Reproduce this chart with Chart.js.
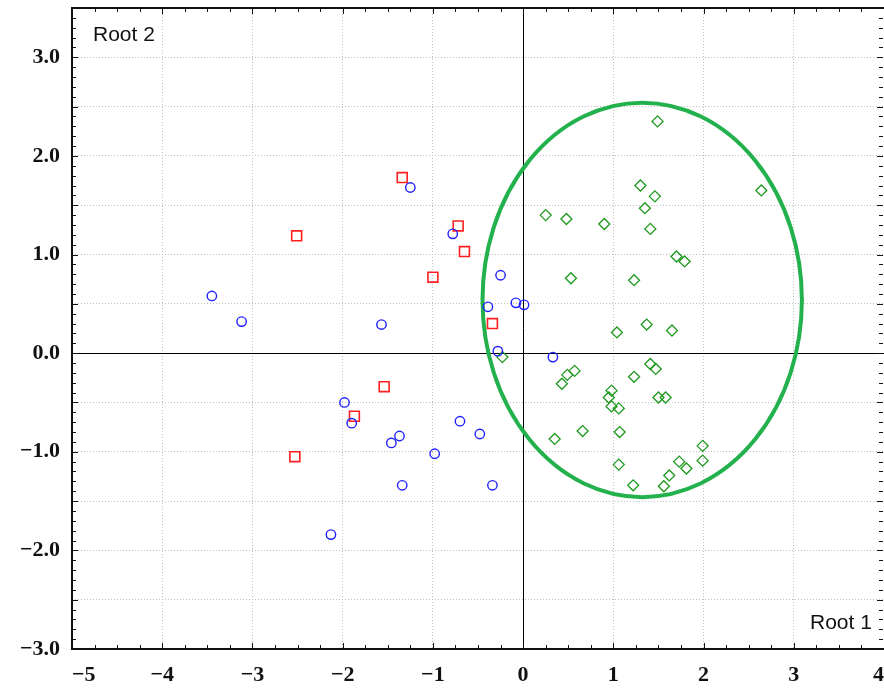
<!DOCTYPE html>
<html lang="en">
<head>
<meta charset="utf-8">
<title>Root 1 / Root 2</title>
<script src="https://cdn.jsdelivr.net/npm/chart.js@4.4.1/dist/chart.umd.min.js"></script>
<style>
  html, body { margin: 0; padding: 0; background: #fff; overflow: hidden; }
  #zone { position: relative; width: 884px; height: 690px; }
</style>
</head>
<body>
<div id="zone"><canvas id="nuage"></canvas></div>
<script>
// groupe 1 : cercles bleus
const groupe1X = [-3.45, -3.12, -1.57, -1.25, -0.78, -0.25, -0.39, -0.08, 0.01, -0.28, 0.33,
                  -1.98, -1.90, -1.37, -1.46, -0.70, -0.48, -0.98, -1.34, -2.13, -0.34];
const groupe1Y = [0.58, 0.32, 0.29, 1.68, 1.21, 0.79, 0.47, 0.51, 0.49, 0.02, -0.04,
                  -0.50, -0.71, -0.84, -0.91, -0.69, -0.82, -1.02, -1.34, -1.84, -1.34];

// groupe 2 : carrés rouges
const groupe2X = [-1.34, -2.51, -0.72, -0.65, -1.00, -0.34, -1.54, -1.87, -2.53];
const groupe2Y = [1.78, 1.19, 1.29, 1.03, 0.77, 0.30, -0.34, -0.64, -1.05];

// groupe 3 : losanges verts
const groupe3X = [1.49, 1.30, 1.46, 1.35, 2.64, 0.25, 0.48, 0.90, 1.41, 1.70, 1.79, 1.23,
                  1.37, 1.04, 1.65, 1.41, 1.47, 1.23, 0.53, -0.23, 0.57, 0.49, 0.43, 0.98,
                  0.95, 0.98, 1.06, 1.50, 1.58, 0.66, 1.07, 0.35, 1.06, 1.22, 1.56, 1.62,
                  1.73, 1.81, 1.99, 1.99];
const groupe3Y = [2.35, 1.70, 1.59, 1.47, 1.65, 1.40, 1.36, 1.31, 1.26, 0.98, 0.93, 0.74,
                  0.29, 0.21, 0.23, -0.11, -0.16, -0.24, 0.76, -0.04, -0.18, -0.22, -0.31, -0.38,
                  -0.45, -0.54, -0.56, -0.45, -0.45, -0.79, -0.80, -0.87, -1.13, -1.34, -1.35, -1.24,
                  -1.10, -1.17, -0.94, -1.09];

// ellipse autour du groupe 3
const ellipseCentre = [1.32, 0.54];
const ellipseRayons = [1.77, 2.00];

// graduations
const ticksX = [-5, -4, -3, -2, -1, 0, 1, 2, 3, 4];
const ticksY = [-3, -2, -1, 0, 1, 2, 3];
const limitesY = [-3, 3.5];

function versPoints(xs, ys) {
  return xs.map((v, i) => ({ x: v, y: ys[i] }));
}

function signeMoins(txt) {
  return txt.replace('-', '\u2212');
}

function couleurGrille(ctx, min, max) {
  const v = ctx.tick.value;
  if (v === 0 || v === min || v === max) return 'rgba(0,0,0,0)';
  return '#bfbfbf';
}

// pas de marge ajoutée par les étiquettes : la zone de tracé va jusqu'au bord
function sansMarge(s) {
  s.paddingTop = 0;
  s.paddingBottom = 0;
  s.paddingLeft = 0;
  s.paddingRight = 0;
}

const cadrePlugin = {
  id: 'cadre',
  beforeDatasetsDraw(chart) {
    const { ctx, chartArea: a, scales: { x, y } } = chart;
    ctx.save();
    // axes du zéro
    ctx.strokeStyle = '#000';
    ctx.lineWidth = 1;
    const x0 = Math.round(x.getPixelForValue(0)) + 0.5;
    const y0 = Math.round(y.getPixelForValue(0)) + 0.5;
    ctx.beginPath();
    ctx.moveTo(x0, a.top);
    ctx.lineTo(x0, a.bottom);
    ctx.moveTo(a.left, y0);
    ctx.lineTo(a.right, y0);
    ctx.stroke();
    // ellipse
    const cx = x.getPixelForValue(ellipseCentre[0]);
    const cy = y.getPixelForValue(ellipseCentre[1]);
    const rx = x.getPixelForValue(ellipseCentre[0] + ellipseRayons[0]) - cx;
    const ry = cy - y.getPixelForValue(ellipseCentre[1] + ellipseRayons[1]);
    ctx.strokeStyle = '#22b14c';
    ctx.lineWidth = 4;
    ctx.beginPath();
    ctx.ellipse(cx, cy, rx, ry, 0, 0, 2 * Math.PI);
    ctx.stroke();
    ctx.restore();
  },
  afterDatasetsDraw(chart) {
    const { ctx, chartArea: a, scales: { x, y } } = chart;
    ctx.save();
    ctx.strokeStyle = '#111';
    // petites graduations vers l'intérieur
    ctx.lineWidth = 1;
    ctx.beginPath();
    const nX = Math.round((ticksX[ticksX.length - 1] - ticksX[0]) / 0.25);
    for (let i = 0; i <= nX; i++) {
      const px = Math.round(x.getPixelForValue(ticksX[0] + i * 0.25)) + 0.5;
      const len = i % 4 === 0 ? 6 : 4;
      ctx.moveTo(px, a.bottom);
      ctx.lineTo(px, a.bottom - len);
      ctx.moveTo(px, a.top);
      ctx.lineTo(px, a.top + len);
    }
    const nY = Math.round((limitesY[1] - limitesY[0]) / 0.1);
    for (let i = 0; i <= nY; i++) {
      const py = Math.round(y.getPixelForValue(limitesY[0] + i * 0.1)) + 0.5;
      const len = i % 5 === 0 ? 6 : 4;
      ctx.moveTo(a.left, py);
      ctx.lineTo(a.left + len, py);
      ctx.moveTo(a.right - 1, py);
      ctx.lineTo(a.right - 1 - len, py);
    }
    ctx.stroke();
    // cadre
    ctx.lineWidth = 2;
    ctx.beginPath();
    ctx.moveTo(a.right + 2, a.top);
    ctx.lineTo(a.left, a.top);
    ctx.lineTo(a.left, a.bottom);
    ctx.lineTo(a.right + 2, a.bottom);
    ctx.stroke();
    // noms des axes
    ctx.fillStyle = '#111';
    ctx.font = '21px "Liberation Sans", Arial, sans-serif';
    ctx.textBaseline = 'alphabetic';
    ctx.textAlign = 'left';
    ctx.fillText('Root 2', a.left + 21, a.top + 33);
    ctx.fillText('Root 1', a.right - 74, a.bottom - 20);
    ctx.restore();
  }
};

const policeGrad = { family: '"Liberation Serif", "Times New Roman", serif', size: 22, weight: 'bold' };

new Chart(document.getElementById('nuage'), {
  type: 'scatter',
  data: {
    datasets: [
      {
        label: 'Groupe 1',
        data: versPoints(groupe1X, groupe1Y),
        pointStyle: 'circle',
        radius: 4.7,
        borderColor: '#1f1fff',
        backgroundColor: 'rgba(0,0,0,0)',
        borderWidth: 1.4
      },
      {
        label: 'Groupe 2',
        data: versPoints(groupe2X, groupe2Y),
        pointStyle: 'rect',
        radius: 7,
        borderColor: '#ff1f1f',
        backgroundColor: 'rgba(0,0,0,0)',
        borderWidth: 1.6
      },
      {
        label: 'Groupe 3',
        data: versPoints(groupe3X, groupe3Y),
        pointStyle: 'rectRot',
        radius: 5.5,
        borderColor: '#1e981e',
        backgroundColor: 'rgba(0,0,0,0)',
        borderWidth: 1.3
      }
    ]
  },
  options: {
    responsive: true,
    maintainAspectRatio: false,
    animation: false,
    events: [],
    layout: { autoPadding: false, padding: { top: 8, right: 0, left: 0, bottom: 0 } },
    plugins: {
      legend: { display: false },
      tooltip: { enabled: false }
    },
    scales: {
      x: {
        type: 'linear',
        min: ticksX[0],
        max: ticksX[ticksX.length - 1],
        afterBuildTicks: s => { s.ticks = ticksX.map(v => ({ value: v })); },
        afterFit: s => { s.height = 41; sansMarge(s); },
        border: { display: false, dash: [1, 2] },
        grid: {
          drawTicks: false,
          lineWidth: 1,
          color: c => couleurGrille(c, ticksX[0], ticksX[ticksX.length - 1])
        },
        ticks: {
          align: 'inner',
          padding: 13,
          color: '#111',
          font: policeGrad,
          callback: v => signeMoins(String(v))
        }
      },
      y: {
        type: 'linear',
        min: limitesY[0],
        max: limitesY[1],
        afterFit: s => { s.width = 72; sansMarge(s); },
        border: { display: false, dash: [1, 2] },
        grid: {
          drawTicks: false,
          lineWidth: 1,
          color: c => couleurGrille(c, limitesY[0], limitesY[1])
        },
        ticks: {
          stepSize: 0.5,
          padding: 12,
          color: '#111',
          font: policeGrad,
          callback: v => ticksY.includes(v) ? signeMoins(v.toFixed(1)) : ''
        }
      }
    }
  },
  plugins: [cadrePlugin]
});
</script>
</body>
</html>
